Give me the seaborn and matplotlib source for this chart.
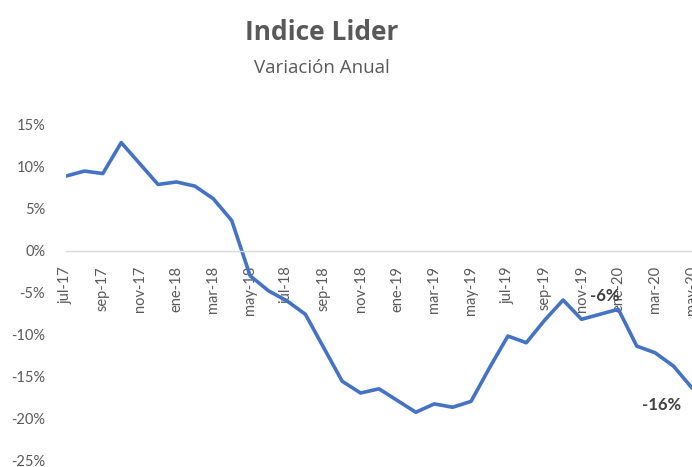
import matplotlib
matplotlib.use("Agg")
import matplotlib.pyplot as plt
import seaborn as sns
import pandas as pd
import numpy as np

months = ["jul-17", "ago-17", "sep-17", "oct-17", "nov-17", "dic-17",
          "ene-18", "feb-18", "mar-18", "abr-18", "may-18", "jun-18",
          "jul-18", "ago-18", "sep-18", "oct-18", "nov-18", "dic-18",
          "ene-19", "feb-19", "mar-19", "abr-19", "may-19", "jun-19",
          "jul-19", "ago-19", "sep-19", "oct-19", "nov-19", "dic-19",
          "ene-20", "feb-20", "mar-20", "abr-20", "may-20"]
values = [8.9, 9.5, 9.2, 12.9, 10.4, 7.9,
          8.2, 7.7, 6.2, 3.6, -3.0, -4.8,
          -6.0, -7.6, -11.6, -15.6, -17.0, -16.5,
          -17.9, -19.3, -18.3, -18.7, -18.0, -14.0,
          -10.2, -11.0, -8.3, -5.9, -8.2, -7.6,
          -7.0, -11.4, -12.2, -13.8, -16.4]
y_ticks = [15, 10, 5, 0, -5, -10, -15, -20, -25]
annot_labels = {"ene-20": "-6%", "may-20": "-16%"}

sns.set_style("white")
plt.rcParams['font.family'] = ['Lato', 'DejaVu Sans']

df = pd.DataFrame({"mes": months, "pos": range(len(months)), "valor": values})

W, H = 692, 467
fig = plt.figure(figsize=(W / 100, H / 100), dpi=100)
ax = fig.add_axes([66 / W, 7 / H, (W - 66) / W, (460 - 125) / H])

sns.lineplot(data=df, x="pos", y="valor", ax=ax, color="#4472C4",
             linewidth=2.6, solid_joinstyle="round", clip_on=True)

ax.set_xlim(0, len(months) - 1)
ax.set_ylim(-25, 15)
ax.set_xlabel("")
ax.set_ylabel("")

for s in ["top", "right", "left"]:
    ax.spines[s].set_visible(False)
ax.spines["bottom"].set_position(("data", 0))
ax.spines["bottom"].set_color("#d9d9d9")
ax.spines["bottom"].set_linewidth(1.0)

ax.set_yticks(y_ticks)
ax.set_yticklabels([f"{v}%" for v in y_ticks], fontsize=10.5, color="#595959")
ax.tick_params(axis="y", length=0, pad=15)

xt = list(range(0, len(months), 2))
ax.set_xticks(xt)
ax.set_xticklabels([months[i] for i in xt], rotation=90, fontsize=10.5,
                   color="#595959", va="top", ha="center")
ax.tick_params(axis="x", length=0, pad=11)

pos_of = {m: i for i, m in enumerate(months)}
ax.annotate(annot_labels["ene-20"], xy=(pos_of["ene-20"], values[pos_of["ene-20"]]),
            xytext=(-14, 13), textcoords="offset pixels", ha="center", va="center",
            fontsize=12, fontweight="bold", color="#404040",
            annotation_clip=False)
ax.annotate(annot_labels["may-20"], xy=(pos_of["may-20"], values[pos_of["may-20"]]),
            xytext=(-30, -17), textcoords="offset pixels", ha="center", va="center",
            fontsize=12, fontweight="bold", color="#404040",
            annotation_clip=False)

fig.text(322 / W, 1 - 32 / H, "Indice Lider", ha="center", va="center",
         fontsize=19, fontweight="bold", color="#595959", family=["Open Sans", "DejaVu Sans"])
fig.text(322 / W, 1 - 68 / H, "Variación Anual", ha="center", va="center",
         fontsize=13.5, color="#595959", family=["Open Sans", "DejaVu Sans"])

fig.savefig("out.png", dpi=100)
